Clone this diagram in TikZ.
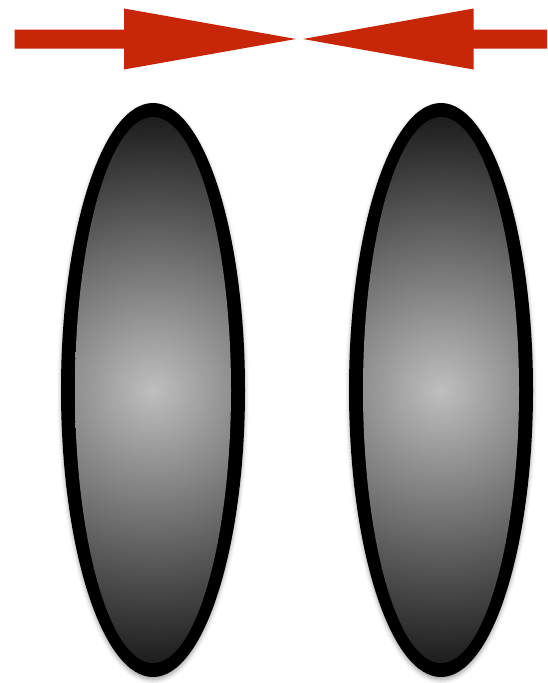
\documentclass[tikz,border=0pt]{standalone}
\usetikzlibrary{shadows.blur}
\definecolor{arrowred}{RGB}{199,38,8}
\definecolor{lenscenter}{RGB}{190,190,190}
\definecolor{lensedge}{RGB}{22,22,22}
\pgfdeclareradialshading{lensshade}{\pgfpoint{0bp}{0bp}}{color(0bp)=(lenscenter); color(25bp)=(lensedge); color(50bp)=(lensedge)}
\tikzset{
  redarrow/.style={fill=arrowred, draw=none},
  lensring/.style={fill=black, blur shadow={shadow xshift=0pt, shadow yshift=-3pt, shadow blur radius=4pt, shadow opacity=35}},
}
\begin{document}
\begin{tikzpicture}[x=1pt,y=-1pt]
\useasboundingbox (0,0) rectangle (547,683);
% arrows
\fill[redarrow] (14.5,29.5) -- (124,29.5) -- (124,8.5) -- (296,39) -- (124,69.5) -- (124,48.5) -- (14.5,48.5) -- cycle;
\fill[redarrow] (547,29.5) -- (473.5,29.5) -- (473.5,8.5) -- (303,39) -- (473.5,69.5) -- (473.5,48.5) -- (547,48.5) -- cycle;
% lenses
\foreach \cx in {153,441}{
  \path[lensring] (\cx,390) ellipse [x radius=92, y radius=287];
  \begin{scope}
    \clip (\cx,390) ellipse [x radius=78, y radius=273];
    \shade[shading=lensshade] (\cx,390) circle [radius=285];
  \end{scope}
}
\end{tikzpicture}
\end{document}
